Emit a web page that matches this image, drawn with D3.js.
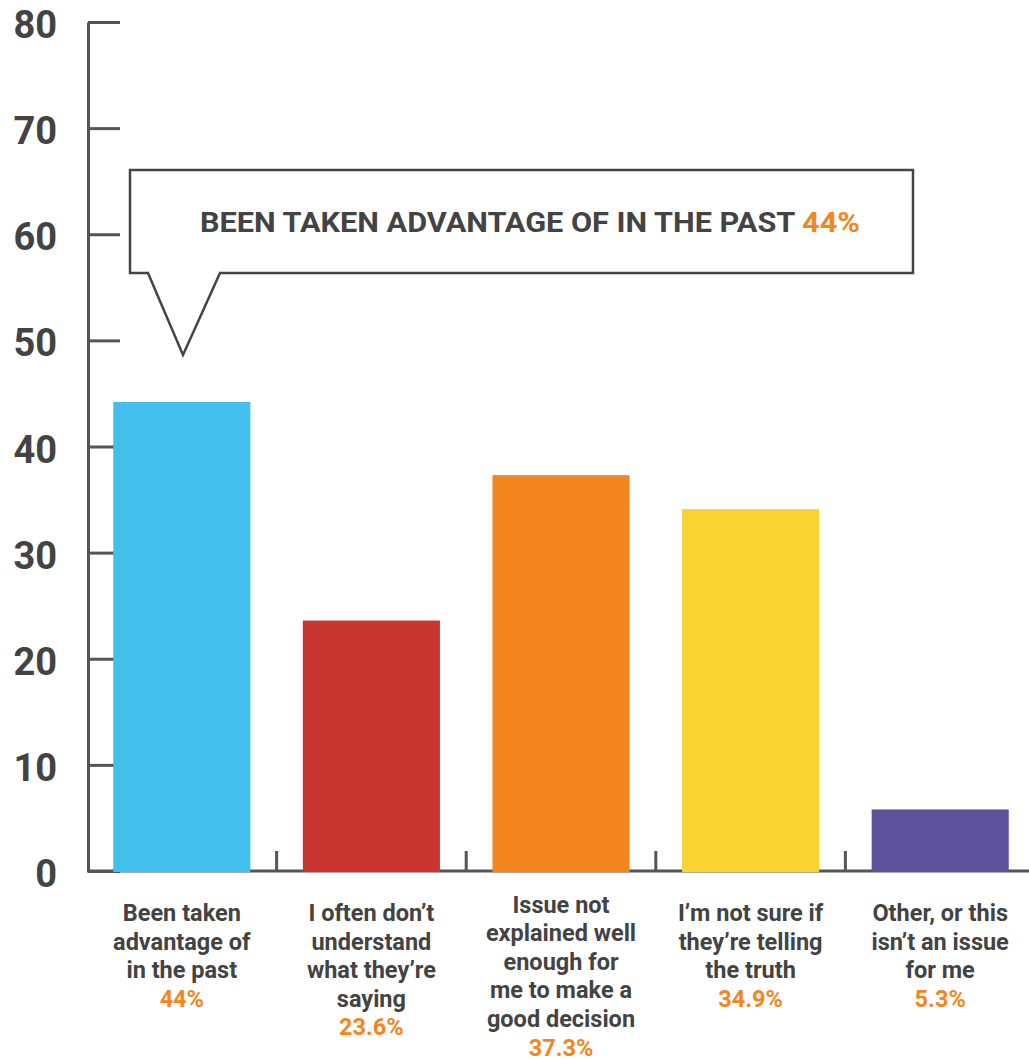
<!DOCTYPE html>
<html lang="en">
<head>
<meta charset="UTF-8">
<title>Reasons bar chart</title>
<script src="https://d3js.org/d3.v7.min.js"></script>
<style>
  body { margin: 0; background: #fff; font-family: Roboto, "Noto Sans", Arial, sans-serif; }
  .y-axis text { font-size: 38px; font-weight: 700; fill: #434343; }
  .cat-label { font-size: 23.5px; font-weight: 700; fill: #434343; }
</style>
</head>
<body>
<div id="chart"></div>
<script>
// data
const categories = [
  ["Been taken", "advantage of", "in the past"],
  ["I often don\u2019t", "understand", "what they\u2019re", "saying"],
  ["Issue not", "explained well", "enough for", "me to make a", "good decision"],
  ["I\u2019m not sure if", "they\u2019re telling", "the truth"],
  ["Other, or this", "isn\u2019t an issue", "for me"]
];
const values = [44.2, 23.6, 37.3, 34.1, 5.8];
const valueLabels = ["44%", "23.6%", "37.3%", "34.9%", "5.3%"];
const colors = ["#42bfec", "#c93531", "#f48620", "#f9d330", "#5e529c"];
const yTicks = [0, 10, 20, 30, 40, 50, 60, 70, 80];
const calloutText = "BEEN TAKEN ADVANTAGE OF IN THE PAST";
const calloutValue = "44%";

const W = 1029, H = 1059;
const axisColor = "#555";
const orange = "#f48620";

const svg = d3.select("#chart").append("svg")
  .attr("width", W).attr("height", H);

const ids = d3.range(values.length);

const x = d3.scaleBand()
  .domain(ids)
  .range([87, 1035])
  .paddingInner(0.277)
  .paddingOuter(0.1385);

const y = d3.scaleLinear()
  .domain([0, 80])
  .range([871, 22]);

// y axis, ticks point inward
const yAxis = svg.append("g")
  .attr("class", "y-axis")
  .attr("transform", "translate(88,0)")
  .call(d3.axisLeft(y).tickValues(yTicks).tickSizeInner(-32).tickSizeOuter(0).tickPadding(31));
yAxis.select(".domain").attr("stroke", axisColor).attr("stroke-width", 3);
yAxis.selectAll(".tick line").attr("stroke", axisColor).attr("stroke-width", 3);
yAxis.selectAll(".tick text").attr("dy", "0.41em").attr("font-family", "Roboto");

// x baseline and separators
svg.append("line")
  .attr("x1", 87).attr("x2", W)
  .attr("y1", y(0)).attr("y2", y(0))
  .attr("stroke", axisColor).attr("stroke-width", 3);

const gap = x.step() * x.paddingInner();
svg.selectAll(".sep")
  .data(ids.slice(1))
  .enter().append("line")
  .attr("class", "sep")
  .attr("x1", d => x(d) - gap / 2).attr("x2", d => x(d) - gap / 2)
  .attr("y1", y(0)).attr("y2", y(0) - 20)
  .attr("stroke", axisColor).attr("stroke-width", 3);

// bars
svg.selectAll(".bar")
  .data(ids)
  .enter().append("rect")
  .attr("class", "bar")
  .attr("x", d => x(d))
  .attr("y", d => y(values[d]))
  .attr("width", x.bandwidth())
  .attr("height", d => y(0) - y(values[d]) + 1)
  .attr("fill", d => colors[d]);

// category labels
const lineH = 28.6;
const labels = svg.selectAll(".cat-label")
  .data(ids)
  .enter().append("text")
  .attr("class", "cat-label")
  .attr("text-anchor", "middle");

labels.each(function (d) {
  const lines = categories[d];
  const cx = x(d) + x.bandwidth() / 2;
  const y0 = 921 - Math.max(0, lines.length - 4) * 8.5;
  const t = d3.select(this);
  lines.forEach((s, i) => {
    t.append("tspan").attr("x", cx).attr("y", y0 + i * lineH).text(s);
  });
  t.append("tspan").attr("x", cx).attr("y", y0 + lines.length * lineH)
    .attr("fill", orange).text(valueLabels[d]);
});

// callout bubble
const box = { x0: 130, x1: 913, y0: 170, y1: 273 };
const tip = { x: 183, y: 355, left: 148, right: 220 };
svg.append("path")
  .attr("d", `M${box.x0},${box.y0} H${box.x1} V${box.y1} H${tip.right} L${tip.x},${tip.y} L${tip.left},${box.y1} H${box.x0} Z`)
  .attr("fill", "#fff")
  .attr("stroke", "#444")
  .attr("stroke-width", 2.5);

const ct = svg.append("text")
  .attr("x", 200).attr("y", 232)
  .attr("font-size", 27)
  .attr("font-weight", 700)
  .attr("fill", "#434343")
  .attr("textLength", 660)
  .attr("lengthAdjust", "spacingAndGlyphs");
ct.append("tspan").text(calloutText + " ");
ct.append("tspan").attr("fill", orange).text(calloutValue);
</script>
</body>
</html>
